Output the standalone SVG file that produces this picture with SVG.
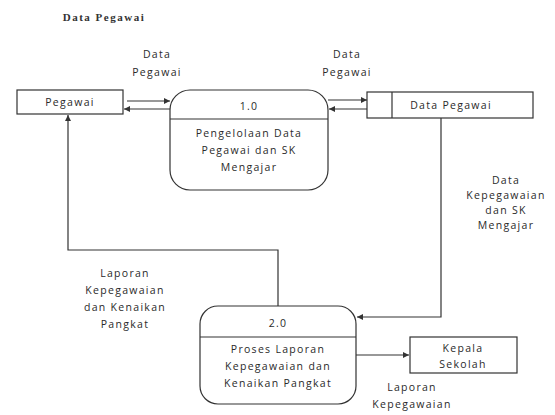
<svg xmlns="http://www.w3.org/2000/svg" width="555" height="415" viewBox="0 0 555 415">
<style>
text{font-family:"Open Sans","Liberation Sans",sans-serif;font-size:10.5px;letter-spacing:1.3px;fill:#2a2a2a;text-anchor:middle}
.t{font-family:"Liberation Serif",serif;font-size:11px;letter-spacing:1.5px;font-weight:bold;fill:#333}
.box{fill:#fff;stroke:#333;stroke-width:1.2}
.ln{fill:none;stroke:#333;stroke-width:1.2}
</style>
<defs>
<marker id="ah" viewBox="0 0 6 6" refX="6" refY="3" markerWidth="5" markerHeight="5" orient="auto"><path d="M0,0L6,3L0,6z" fill="#333"/></marker>
</defs>
<rect width="555" height="415" fill="#fff"/>
<text class="t" x="104" y="21">Data Pegawai</text>
<g id="pegawai"><rect class="box" x="17" y="90" width="106" height="24"/><text x="70" y="106">Pegawai</text></g>
<g id="p1"><rect class="box" x="170" y="90" width="158" height="100" rx="20"/><line class="ln" x1="170" y1="119" x2="328" y2="119"/>
<text x="249" y="110">1.0</text><text x="249" y="137">Pengelolaan Data</text><text x="249" y="154">Pegawai dan SK</text><text x="249" y="171">Mengajar</text></g>
<g id="ds"><rect class="box" x="367" y="92" width="166" height="26"/><line class="ln" x1="392" y1="92" x2="392" y2="118"/><text x="451" y="109">Data Pegawai</text></g>
<g id="p2"><rect class="box" x="200" y="306" width="156" height="98" rx="18"/><line class="ln" x1="200" y1="337" x2="356" y2="337"/>
<text x="278" y="327">2.0</text><text x="278" y="353">Proses Laporan</text><text x="278" y="370">Kepegawaian dan</text><text x="278" y="387">Kenaikan Pangkat</text></g>
<g id="ks"><rect class="box" x="410" y="337" width="107" height="36"/><text x="463" y="352">Kepala</text><text x="463" y="368">Sekolah</text></g>
<g id="connectors">
<line class="ln" x1="127" y1="101" x2="170" y2="101" marker-end="url(#ah)"/>
<line class="ln" x1="170" y1="109" x2="124" y2="109" marker-end="url(#ah)"/>
<line class="ln" x1="328" y1="100" x2="367" y2="100" marker-end="url(#ah)"/>
<line class="ln" x1="367" y1="109" x2="329" y2="109" marker-end="url(#ah)"/>
<path class="ln" d="M441,118V317H357" marker-end="url(#ah)"/>
<path class="ln" d="M278,306V250H68V115" marker-end="url(#ah)"/>
<line class="ln" x1="356" y1="355" x2="409" y2="355" marker-end="url(#ah)"/>
</g>
<g id="labels">
<text x="157" y="58">Data</text><text x="157" y="76">Pegawai</text>
<text x="347" y="58">Data</text><text x="347" y="76">Pegawai</text>
<text x="506" y="184">Data</text><text x="506" y="199">Kepegawaian</text><text x="506" y="214">dan SK</text><text x="506" y="229">Mengajar</text>
<text x="125" y="277">Laporan</text><text x="125" y="294">Kepegawaian</text><text x="125" y="311">dan Kenaikan</text><text x="125" y="328">Pangkat</text>
<text x="412" y="391">Laporan</text><text x="412" y="408">Kepegawaian</text>
</g>
</svg>
